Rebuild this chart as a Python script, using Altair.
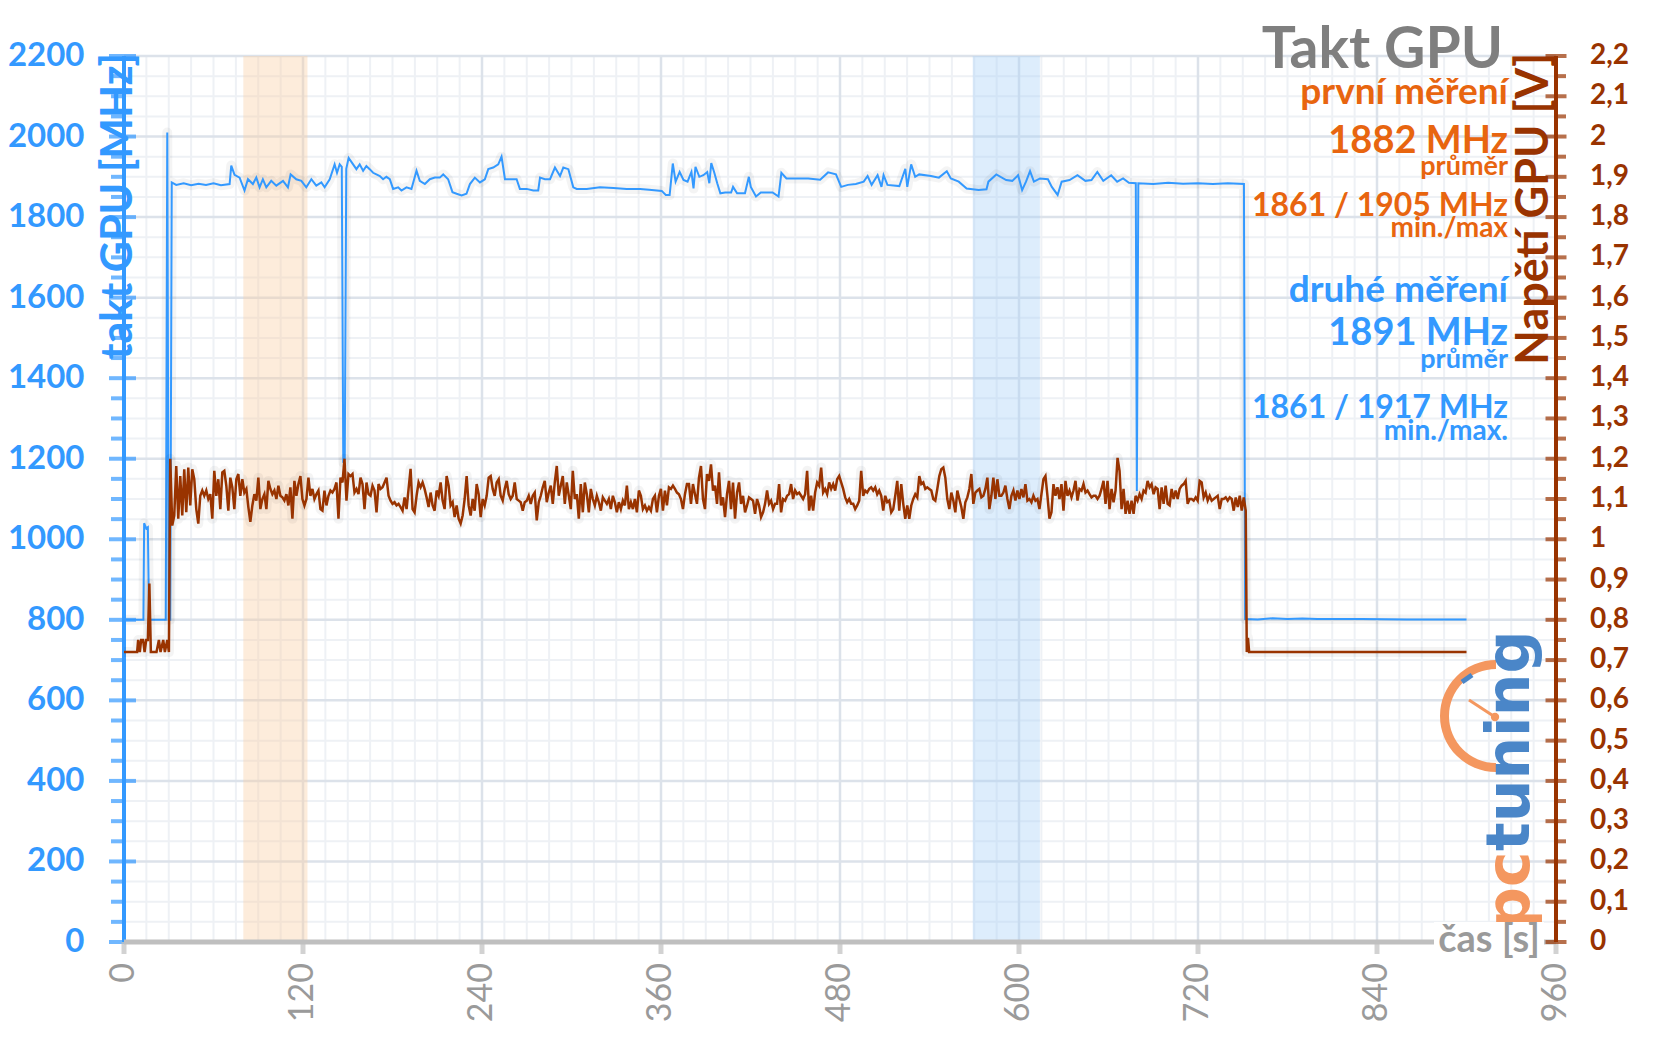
import altair as alt
import pandas as pd

# ---------------- data ----------------
# GPU clock [MHz] vs time [s]
clock_points = [
    (0, 800), (13, 800), (13.5, 1040), (14.9, 1027), (16, 1030), (16.8, 800),
    (28, 800), (29, 2010), (30, 800), (31, 800), (32, 1886), (35, 1880), (40, 1884),
    (45, 1879), (50, 1883), (55, 1880), (60, 1884), (65, 1879), (70.8, 1882),
    (71.9, 1928), (74.1, 1905), (77.5, 1898), (80.8, 1866), (83.1, 1894), (86.4, 1882),
    (88.7, 1898), (90.9, 1874), (93.1, 1894), (95.4, 1874), (98.7, 1890), (102.1, 1878),
    (106.6, 1890), (109.9, 1874), (111.7, 1906), (115.5, 1894), (118.9, 1890),
    (122.2, 1874), (125.6, 1894), (128.9, 1878), (132.3, 1886), (134.5, 1874),
    (137.9, 1894), (141.2, 1931), (142.8, 1910), (144.6, 1931), (146, 1925),
    (147, 1190), (148, 1200), (149, 1920), (150.6, 1947), (153.6, 1931), (155.8, 1919),
    (158, 1931), (160.3, 1915), (162.5, 1927), (164.7, 1919), (167, 1910), (169.2, 1906),
    (171.5, 1902), (173.7, 1894), (175.9, 1900), (178.2, 1894), (180.4, 1870),
    (183.8, 1874), (186, 1866), (189.4, 1874), (192.7, 1870), (196.1, 1915), (198.3, 1890),
    (201.7, 1882), (205, 1894), (208.4, 1898), (211.7, 1898), (214, 1906), (217.3, 1894),
    (220.2, 1862), (223, 1858), (226.3, 1854), (229.6, 1858), (231.9, 1882), (235.2, 1898),
    (238.6, 1886), (241.9, 1894), (244.2, 1919), (247.5, 1923), (250.9, 1931),
    (253.1, 1950), (255.4, 1894), (258.7, 1894), (263.2, 1894), (265.4, 1870),
    (269.9, 1870), (274.4, 1866), (277.7, 1866), (278.9, 1898), (282.2, 1894),
    (285.6, 1894), (288.9, 1923), (292.3, 1902), (294.5, 1923), (297.9, 1919),
    (301.2, 1874), (303.5, 1870), (310.2, 1870), (319.1, 1874), (328.1, 1872),
    (337, 1870), (346, 1870), (352, 1868), (360.5, 1865), (363.2, 1855), (365.8, 1855),
    (367.9, 1933), (369.8, 1888), (372.5, 1912), (375.1, 1892), (377.8, 1888),
    (380.4, 1912), (381.8, 1871), (383.1, 1925), (385.7, 1900), (388.4, 1904),
    (391, 1912), (392.4, 1884), (393.7, 1934), (395.6, 1912), (397.7, 1884),
    (399.8, 1859), (403, 1861), (407, 1861), (408.3, 1875), (411, 1859), (416.3, 1859),
    (418.9, 1900), (420.2, 1875), (423.7, 1851), (426.9, 1861), (434.8, 1861),
    (438.8, 1851), (440.7, 1910), (444.1, 1896), (450.8, 1896), (458.7, 1896),
    (466.7, 1893), (472, 1911), (477.3, 1906), (480.8, 1875), (485.3, 1880),
    (490.6, 1882), (495.9, 1888), (498.5, 1902), (501.2, 1880), (505.2, 1904),
    (507.8, 1875), (509.2, 1904), (511.8, 1880), (519.8, 1877), (523.8, 1920),
    (525.1, 1875), (527.7, 1931), (530.4, 1900), (533.1, 1906), (541, 1902),
    (546.3, 1898), (551.6, 1914), (554.3, 1896), (559.6, 1888), (564.9, 1871),
    (572.9, 1867), (578.2, 1869), (579.5, 1888), (584.8, 1906), (591.4, 1892),
    (595.5, 1890), (599.4, 1904), (602.1, 1867), (604.7, 1888), (607.4, 1914),
    (610, 1888), (614.1, 1896), (619.4, 1894), (622, 1875), (625.9, 1855),
    (628.6, 1888), (633.9, 1892), (639.2, 1904), (644.5, 1890), (648.6, 1892),
    (652.5, 1912), (656.5, 1890), (661.8, 1904), (665.8, 1888), (669.8, 1896),
    (673.7, 1885), (678.3, 1884), (679, 1120), (680, 1884), (690, 1882), (700, 1885),
    (710, 1883), (720, 1884), (730, 1882), (740, 1884), (750.8, 1882), (751.6, 802),
    (760, 801), (770, 804), (780, 802), (790, 803), (800, 802), (830, 802),
    (860, 801), (900, 801),
]

# GPU voltage [V]: idle start
volt_head = [
    (0, 0.72), (8.8, 0.72), (9.5, 0.75), (10.6, 0.72), (11.5, 0.75), (12.8, 0.75),
    (13.8, 0.72), (14.9, 0.75), (16.0, 0.75), (17.0, 0.89), (18.0, 0.72), (21.8, 0.72),
    (23.4, 0.75), (24.5, 0.72), (26.3, 0.75), (27.4, 0.72), (29.0, 0.75), (30.1, 0.72),
]
# GPU voltage [V] under load, evenly spaced samples from 31 s to 752 s
volt_load_span = (31.0, 752.0)
volt_load = [
    1.200, 1.034, 1.059, 1.182, 1.051, 1.157, 1.059, 1.174, 1.067, 1.178,
    1.084, 1.174, 1.149, 1.075, 1.039, 1.108, 1.121, 1.108, 1.121, 1.100,
    1.112, 1.051, 1.170, 1.108, 1.149, 1.075, 1.166, 1.170, 1.133, 1.071,
    1.153, 1.129, 1.075, 1.149, 1.162, 1.108, 1.149, 1.116, 1.125, 1.080,
    1.043, 1.084, 1.112, 1.096, 1.153, 1.075, 1.100, 1.112, 1.075, 1.145,
    1.125, 1.112, 1.121, 1.100, 1.133, 1.108, 1.104, 1.096, 1.112, 1.084,
    1.129, 1.051, 1.145, 1.108, 1.137, 1.157, 1.100, 1.084, 1.100, 1.153,
    1.108, 1.125, 1.100, 1.112, 1.121, 1.075, 1.071, 1.121, 1.084, 1.108,
    1.121, 1.116, 1.125, 1.141, 1.051, 1.153, 1.141, 1.200,
    1.096, 1.162, 1.157, 1.162, 1.116, 1.125, 1.112, 1.153, 1.137, 1.075,
    1.141, 1.112, 1.108, 1.133, 1.121, 1.067, 1.137, 1.125, 1.129, 1.141,
    1.153, 1.108, 1.096, 1.088, 1.092, 1.084, 1.088, 1.080, 1.071, 1.104,
    1.075, 1.125, 1.175, 1.075, 1.067, 1.108, 1.141, 1.129, 1.141, 1.125,
    1.104, 1.080, 1.116, 1.084, 1.071, 1.121, 1.108, 1.141, 1.096, 1.075,
    1.157, 1.133, 1.084, 1.092, 1.055, 1.084, 1.051, 1.039, 1.059, 1.100,
    1.157, 1.084, 1.059, 1.100, 1.071, 1.137, 1.112, 1.055, 1.100, 1.084,
    1.108, 1.153, 1.157, 1.125, 1.108, 1.141, 1.149, 1.108, 1.096, 1.125,
    1.145, 1.112, 1.100, 1.108, 1.141, 1.100, 1.096, 1.092, 1.071, 1.092,
    1.096, 1.108, 1.088, 1.108, 1.116, 1.047, 1.092, 1.108, 1.129, 1.145,
    1.092, 1.116, 1.133, 1.088, 1.141, 1.182, 1.108, 1.133, 1.157, 1.088,
    1.141, 1.108, 1.075, 1.170, 1.100, 1.112, 1.051, 1.137, 1.067, 1.141,
    1.112, 1.067, 1.125, 1.100, 1.084, 1.108, 1.092, 1.071, 1.104, 1.096,
    1.088, 1.100, 1.075, 1.108, 1.092, 1.067, 1.092, 1.075, 1.096, 1.084,
    1.133, 1.075, 1.092, 1.075, 1.100, 1.067, 1.121,
    1.108, 1.075, 1.084, 1.071, 1.080, 1.071, 1.100, 1.108, 1.067, 1.108,
    1.125, 1.071, 1.121, 1.084, 1.129, 1.125, 1.133, 1.125, 1.116, 1.112,
    1.100, 1.075, 1.112, 1.137, 1.137, 1.088, 1.137, 1.112, 1.088, 1.153,
    1.182, 1.100, 1.075, 1.162, 1.145, 1.186, 1.121, 1.133, 1.088, 1.166,
    1.084, 1.104, 1.055, 1.112, 1.145, 1.075, 1.141, 1.051, 1.116, 1.141,
    1.088, 1.108, 1.067, 1.084, 1.104, 1.100, 1.096, 1.063, 1.100, 1.084,
    1.055, 1.067, 1.088, 1.121, 1.088, 1.096, 1.075, 1.088, 1.088, 1.137,
    1.067, 1.100, 1.096, 1.108, 1.112, 1.137, 1.100, 1.121, 1.112, 1.116,
    1.108, 1.100, 1.112, 1.170, 1.071, 1.108, 1.071, 1.116, 1.141, 1.133,
    1.178, 1.116, 1.125, 1.112, 1.141, 1.125, 1.137, 1.121, 1.149, 1.157,
    1.141, 1.125, 1.104, 1.092, 1.100, 1.088, 1.088, 1.075, 1.084, 1.096,
    1.170, 1.108, 1.121, 1.116, 1.125, 1.129, 1.121, 1.129, 1.112, 1.121,
    1.108, 1.071, 1.108, 1.092, 1.096, 1.067, 1.075, 1.108, 1.145, 1.071,
    1.137, 1.088, 1.051, 1.084, 1.051, 1.084, 1.100, 1.112, 1.104, 1.157,
    1.137, 1.141, 1.125, 1.129, 1.125, 1.121, 1.100, 1.096, 1.125, 1.157,
    1.174, 1.178, 1.153, 1.100, 1.075, 1.116, 1.096, 1.067, 1.121, 1.100,
    1.080, 1.051, 1.092, 1.104, 1.125, 1.162, 1.088, 1.116, 1.121, 1.125,
    1.104, 1.108, 1.125, 1.153, 1.075, 1.108, 1.153, 1.100, 1.149, 1.108,
    1.108, 1.116, 1.133, 1.100, 1.075, 1.108, 1.121, 1.096, 1.121, 1.100,
    1.125, 1.104, 1.137, 1.096, 1.100, 1.092, 1.108, 1.096, 1.100, 1.075,
    1.112, 1.149, 1.157, 1.108, 1.051, 1.067, 1.137, 1.108, 1.129, 1.100,
    1.137, 1.071, 1.145, 1.108, 1.121, 1.104, 1.121, 1.145, 1.096, 1.125,
    1.121, 1.137, 1.116, 1.121, 1.112, 1.104, 1.108, 1.108, 1.100, 1.108,
    1.125, 1.145, 1.088, 1.145, 1.075, 1.125, 1.092, 1.121, 1.202, 1.170,
    1.075, 1.125, 1.063, 1.096, 1.063, 1.096, 1.063, 1.108, 1.096, 1.112,
    1.100, 1.121, 1.116, 1.145, 1.129, 1.137, 1.112, 1.129, 1.125, 1.075,
    1.129, 1.088, 1.133, 1.088, 1.084, 1.125, 1.100, 1.121, 1.100, 1.125,
    1.133, 1.137, 1.145, 1.088, 1.100, 1.100, 1.096, 1.104, 1.096, 1.145,
    1.141, 1.104, 1.116, 1.096, 1.108, 1.096, 1.100, 1.104, 1.108, 1.075,
    1.100, 1.100, 1.104, 1.096, 1.104, 1.100, 1.071, 1.104, 1.080, 1.108,
    1.071, 1.104, 1.071,
]
# GPU voltage [V]: idle end
volt_tail = [(752.7, 0.72), (753.5, 0.755), (754.3, 0.72), (900, 0.72)]

# highlighted measurement windows [s]
band_names = ["první", "druhé"]
band_start = [80, 569]
band_end = [123, 614]

# axes: tick values and tick labels
x_tick_values = [0, 120, 240, 360, 480, 600, 720, 840, 960]
x_tick_labels = ["0", "120", "240", "360", "480", "600", "720", "840", "960"]
x_minor_grid = list(range(0, 961, 15))
mhz_major = [0, 200, 400, 600, 800, 1000, 1200, 1400, 1600, 1800, 2000, 2200]
mhz_major_labels = ["0", "200", "400", "600", "800", "1000", "1200", "1400", "1600",
                    "1800", "2000", "2200"]
mhz_minor = [v for v in range(0, 2201, 50) if v % 200]
volt_major = [round(0.1 * i, 1) for i in range(23)]
volt_major_labels = ["0", "0,1", "0,2", "0,3", "0,4", "0,5", "0,6", "0,7", "0,8", "0,9",
                     "1", "1,1", "1,2", "1,3", "1,4", "1,5", "1,6", "1,7", "1,8", "1,9",
                     "2", "2,1", "2,2"]
volt_minor = [round(0.05 + 0.1 * i, 2) for i in range(22)]

# ---------------- styling ----------------
W, H = 1432, 886
BLUE = "#3399FF"
BROWN = "#993300"
ORANGE = "#E8650F"
TITLE_GRAY = "#7F7F7F"
AX_GRAY = "#BFBFBF"
LBL_GRAY = "#9A9A9A"
GRID_MAJOR = "#DCE2EA"
GRID_MINOR = "#EEF1F5"
FONT = "Lato"

clock_df = pd.DataFrame(clock_points, columns=["t", "mhz"])
n = len(volt_load)
step = (volt_load_span[1] - volt_load_span[0]) / (n - 1)
volt_rows = list(volt_head) + [(volt_load_span[0] + i * step, v) for i, v in enumerate(volt_load)] + list(volt_tail)
volt_df = pd.DataFrame(volt_rows, columns=["t", "v"])

xs = alt.Scale(domain=[0, 960], nice=False, zero=False)
ys_mhz = alt.Scale(domain=[0, 2200], nice=False, zero=False)
ys_v = alt.Scale(domain=[0, 2.2], nice=False, zero=False)


def X(field):
    return alt.X(field, type="quantitative", scale=xs, axis=None)


def YM(field):
    return alt.Y(field, type="quantitative", scale=ys_mhz, axis=None)


def YV(field):
    return alt.Y(field, type="quantitative", scale=ys_v, axis=None)


# ---- grid ----
grid_v_minor = alt.Chart(pd.DataFrame({"t": x_minor_grid})).mark_rule(
    color=GRID_MINOR, strokeWidth=2).encode(x=X("t"))
grid_h_minor = alt.Chart(pd.DataFrame({"mhz": mhz_minor})).mark_rule(
    color=GRID_MINOR, strokeWidth=2).encode(y=YM("mhz"))
grid_v_major = alt.Chart(pd.DataFrame({"t": x_tick_values})).mark_rule(
    color=GRID_MAJOR, strokeWidth=2.5).encode(x=X("t"))
grid_h_major = alt.Chart(pd.DataFrame({"mhz": mhz_major})).mark_rule(
    color=GRID_MAJOR, strokeWidth=2.5).encode(y=YM("mhz"))

bands = alt.Chart(pd.DataFrame({"name": band_names, "start": band_start, "end": band_end})).mark_rect(
    opacity=0.4).encode(
    x=X("start"), x2="end:Q",
    color=alt.Color("name:N", scale=alt.Scale(domain=band_names, range=["#F9CFA6", "#A9D3F8"]), legend=None),
)

# ---- series ----
clock_shadow = alt.Chart(clock_df).mark_line(color="#000000", opacity=0.045, strokeWidth=10,
                                             strokeJoin="round").encode(x=X("t"), y=YM("mhz"))
clock_line = alt.Chart(clock_df).mark_line(color=BLUE, strokeWidth=2).encode(x=X("t"), y=YM("mhz"))

# ---- x axis (drawn from the scales) ----
x_domain = alt.Chart(pd.DataFrame({"mhz": [0]})).mark_rule(color=AX_GRAY, strokeWidth=5).encode(y=YM("mhz"))
x_ticks = alt.Chart(pd.DataFrame({"t": x_tick_values, "mhz": 0})).mark_tick(
    orient="vertical", color=AX_GRAY, size=12, thickness=5, yOffset=6).encode(x=X("t"), y=YM("mhz"))
x_labels = alt.Chart(pd.DataFrame({"t": x_tick_values, "mhz": 0, "lab": x_tick_labels})).mark_text(
    angle=270, align="right", baseline="middle", font=FONT, fontSize=34, color=LBL_GRAY, yOffset=21
).encode(x=X("t"), y=YM("mhz"), text="lab:N")

# ---- left axis ----
y_domain = alt.Chart(pd.DataFrame({"t": [0]})).mark_rule(color=BLUE, strokeWidth=4).encode(x=X("t"))
y_ticks_major = alt.Chart(pd.DataFrame({"mhz": mhz_major, "t": 0})).mark_tick(
    orient="horizontal", color=BLUE, size=27, thickness=4, xOffset=-1.5).encode(x=X("t"), y=YM("mhz"))
y_ticks_minor = alt.Chart(pd.DataFrame({"mhz": mhz_minor, "t": 0})).mark_tick(
    orient="horizontal", color=BLUE, size=13, thickness=4, xOffset=-6.5).encode(x=X("t"), y=YM("mhz"))
y_labels = alt.Chart(pd.DataFrame({"mhz": mhz_major, "t": 0, "lab": mhz_major_labels})).mark_text(
    align="right", baseline="middle", font=FONT, fontWeight="bold", fontSize=33, color=BLUE, xOffset=-39.5
).encode(x=X("t"), y=YM("mhz"), text="lab:N")

mhz_layer = alt.layer(grid_v_minor, grid_h_minor, grid_v_major, grid_h_major, bands,
                      clock_shadow, clock_line, y_domain, y_ticks_minor, y_ticks_major, y_labels,
                      x_domain, x_ticks, x_labels)

# ---- voltage series and right axis ----
volt_shadow = alt.Chart(volt_df).mark_line(color="#000000", opacity=0.045, strokeWidth=10,
                                           strokeJoin="round").encode(x=X("t"), y=YV("v"))
volt_line = alt.Chart(volt_df).mark_line(color=BROWN, strokeWidth=2.5).encode(x=X("t"), y=YV("v"))
v_domain = alt.Chart(pd.DataFrame({"t": [960]})).mark_rule(color=BROWN, strokeWidth=4).encode(x=X("t"))
v_ticks_major = alt.Chart(pd.DataFrame({"v": volt_major, "t": 960})).mark_tick(
    orient="horizontal", color=BROWN, size=21, thickness=4).encode(x=X("t"), y=YV("v"))
v_ticks_minor = alt.Chart(pd.DataFrame({"v": volt_minor, "t": 960})).mark_tick(
    orient="horizontal", color=BROWN, size=10, thickness=4, xOffset=5).encode(x=X("t"), y=YV("v"))
v_labels = alt.Chart(pd.DataFrame({"v": volt_major, "t": 960, "lab": volt_major_labels})).mark_text(
    align="left", baseline="middle", font=FONT, fontWeight="bold", fontSize=28, color=BROWN, xOffset=34
).encode(x=X("t"), y=YV("v"), text="lab:N")

volt_layer = alt.layer(volt_shadow, volt_line, v_domain, v_ticks_minor, v_ticks_major, v_labels)

one = pd.DataFrame({"k": [0]})


def label(text, x, y, size, color, angle=0, align="right", weight="bold", font=FONT):
    return alt.Chart(one).mark_text(
        text=text, align=align, baseline="alphabetic", fontSize=size, font=font,
        fontWeight=weight, angle=angle, color=color,
    ).encode(x=alt.value(x), y=alt.value(y))


# white backing behind the x-axis title (it sits on the axis line)
x_title_bg = alt.Chart(one).mark_rect(color="white").encode(
    x=alt.value(1310), x2=alt.value(1420), y=alt.value(866), y2=alt.value(898))

texts = [
    label("Takt GPU", 1379, 12, 57, TITLE_GRAY),
    label("první měření", 1384, 48, 37, ORANGE),
    label("1882 MHz", 1384, 97, 38, ORANGE),
    label("průměr", 1384, 119, 27, ORANGE),
    label("1861 / 1905 MHz", 1384, 160, 32, ORANGE),
    label("min./max", 1384, 181, 28, ORANGE),
    label("druhé měření", 1384, 246, 37, BLUE),
    label("1891 MHz", 1384, 289, 38, BLUE),
    label("průměr", 1384, 312, 27, BLUE),
    label("1861 / 1917 MHz", 1384, 362, 32, BLUE),
    label("min./max.", 1384, 384, 28, BLUE),
    label("takt GPU [MHz]", 8, -3, 43, BLUE, angle=270),
    label("Napětí GPU [V]", 1424, -3, 45, BROWN, angle=270),
    x_title_bg,
    label("čas [s]", 1416, 896, 38, LBL_GRAY),
]

# pctuning watermark
LOGO_O = "#F4975F"
LOGO_B = "#4A86C8"
logo = [
    alt.Chart(one).mark_arc(color=LOGO_O, theta=3.1416, theta2=6.2832, radius=47, radius2=56).encode(
        x=alt.value(1372), y=alt.value(660)),
    alt.Chart(one).mark_rule(color=LOGO_O, strokeWidth=3).encode(
        x=alt.value(1345), x2=alt.value(1371), y=alt.value(644), y2=alt.value(661)),
    alt.Chart(one).mark_point(color=LOGO_O, filled=True, size=70, opacity=1).encode(
        x=alt.value(1371), y=alt.value(661)),
    alt.Chart(one).mark_rule(color=LOGO_B, strokeWidth=5).encode(
        x=alt.value(1338), x2=alt.value(1348), y=alt.value(626), y2=alt.value(619)),
    label("pc", 1405, 874, 60, LOGO_O, angle=270, align="left", font="DejaVu Sans"),
    label("tuning", 1405, 795, 60, LOGO_B, angle=270, align="left", font="DejaVu Sans"),
]

chart = alt.layer(mhz_layer, volt_layer, *logo, *texts).resolve_scale(y="independent").properties(
    width=W, height=H,
    padding={"left": 116, "top": 48, "right": 84, "bottom": 86},
    autosize=alt.AutoSizeParams(type="none"),
    background="white",
).configure_view(stroke=None)

chart.save("out.html", embed_options={"renderer": "svg", "actions": False})
